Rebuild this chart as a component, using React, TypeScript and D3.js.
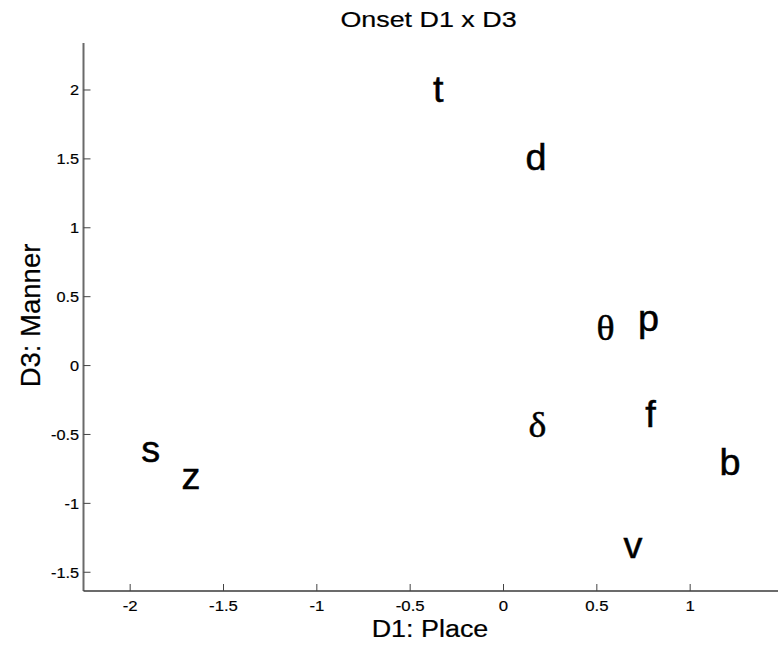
import React from "react";
import * as d3 from "d3";

const labels = ["t", "d", "θ", "p", "δ", "f", "b", "v", "s", "z"];
const d1Values = [-0.35, 0.174, 0.547, 0.777, 0.181, 0.788, 1.213, 0.694, -1.89, -1.674];
const d3Values = [1.983, 1.488, 0.254, 0.321, -0.448, -0.375, -0.726, -1.33, -0.631, -0.827];
const greekLabels = ["θ", "δ"];
const xTicks = [-2, -1.5, -1, -0.5, 0, 0.5, 1];
const yTicks = [-1.5, -1, -0.5, 0, 0.5, 1, 1.5, 2];
const xDomain = [-2.25, 1.5];
const yDomain = [-1.636, 2.341];
const titleText = "Onset D1 x D3";
const xLabelText = "D1: Place";
const yLabelText = "D3: Manner";

const W = 778;
const H = 645;
const left = 83.5;
const right = 783.5;
const top = 43;
const bottom = 591;

export default function App() {
  const x = d3.scaleLinear().domain(xDomain).range([left, right]);
  const y = d3.scaleLinear().domain(yDomain).range([bottom, top]);
  const sans = "'Liberation Sans', Arial, sans-serif";
  const serif = "'Liberation Serif', 'Times New Roman', serif";
  const fmt = (v: number) => String(v);

  return (
    <svg
      width={W}
      height={H}
      style={{ position: "absolute", left: 0, top: 0, background: "#fff" }}
    >
      <rect x={0} y={0} width={W} height={H} fill="#fff" />
      {/* title */}
      <text
        transform={`translate(${(left + right) / 2 - 5},26.7) scale(1.2,1)`}
        textAnchor="middle"
        fontFamily={sans}
        fontSize={22.4}
        fill="#000"
        stroke="#000"
        strokeWidth={0.2}
      >
        {titleText}
      </text>
      {/* axes lines */}
      <line x1={left} x2={left} y1={top} y2={bottom} stroke="#6a6a6a" strokeWidth={2} />
      <line x1={left} x2={right} y1={bottom} y2={bottom} stroke="#3a3a3a" strokeWidth={1.6} />
      {/* x ticks */}
      {xTicks.map((t) => (
        <g key={"x" + t}>
          <line x1={x(t)} x2={x(t)} y1={bottom} y2={bottom - 7} stroke="#444" strokeWidth={1} />
          <text
            transform={`translate(${x(t)},611) scale(1.08,1)`}
            textAnchor="middle"
            fontFamily={sans}
            fontSize={15.5}
            fill="#000"
            stroke="#000"
            strokeWidth={0.2}
          >
            {fmt(t)}
          </text>
        </g>
      ))}
      {/* y ticks */}
      {yTicks.map((t) => (
        <g key={"y" + t}>
          <line x1={left} x2={left + 7} y1={y(t)} y2={y(t)} stroke="#444" strokeWidth={1} />
          <text
            transform={`translate(79,${y(t) + 5.5}) scale(1.05,1)`}
            textAnchor="end"
            fontFamily={sans}
            fontSize={15.5}
            fill="#000"
            stroke="#000"
            strokeWidth={0.2}
          >
            {fmt(t)}
          </text>
        </g>
      ))}
      {/* axis labels */}
      <text
        transform={`translate(430,636.7) scale(1.17,1)`}
        textAnchor="middle"
        fontFamily={sans}
        fontSize={23}
        fill="#000"
        stroke="#000"
        strokeWidth={0.2}
      >
        {xLabelText}
      </text>
      <text
        transform={`translate(40,315.5) rotate(-90)`}
        textAnchor="middle"
        fontFamily={sans}
        fontSize={27.5}
        fill="#000"
        stroke="#000"
        strokeWidth={0.2}
      >
        {yLabelText}
      </text>
      {/* data labels */}
      {labels.map((lab, i) => {
        const isGreek = greekLabels.includes(lab);
        return (
          <text
            key={lab}
            transform={`translate(${x(d1Values[i])},${y(d3Values[i]) + 9.4}) scale(1.05,1)`}
            textAnchor="middle"
            fontFamily={isGreek ? serif : sans}
            fontSize={36}
            fill="#000"
            stroke="#000"
            strokeWidth={0.5}
          >
            {lab}
          </text>
        );
      })}
    </svg>
  );
}
